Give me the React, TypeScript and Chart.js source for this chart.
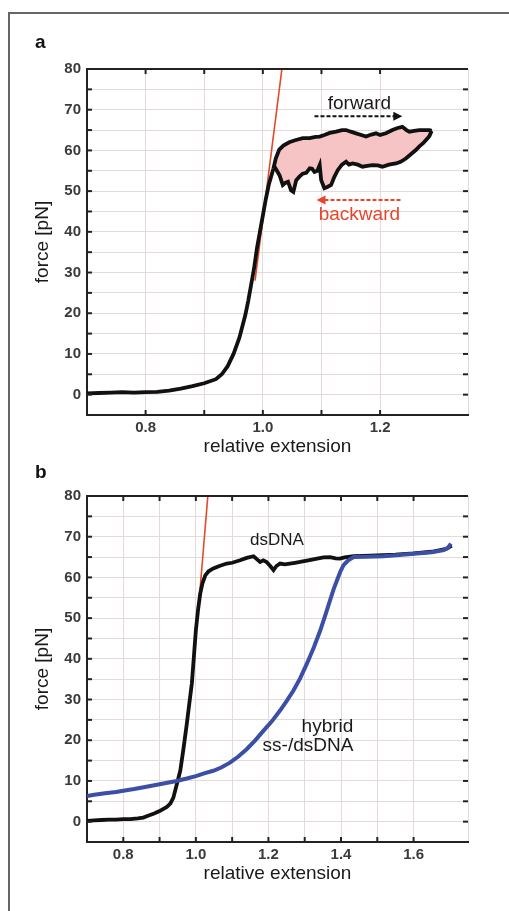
import React, { useEffect, useRef } from 'react';
import { Chart, registerables } from 'chart.js';
Chart.register(...registerables);

const FONT = '"Liberation Sans", Arial, Helvetica, sans-serif';

// ---------- Panel a data ----------
const aRiseX = [0.7, 0.72, 0.74, 0.76, 0.78, 0.8, 0.82, 0.84, 0.86, 0.88, 0.9, 0.92, 0.93, 0.94, 0.95, 0.96, 0.97, 0.975, 0.98, 0.985, 0.99, 0.995, 1.0, 1.005, 1.01, 1.015, 1.018];
const aRiseY = [0.3, 0.4, 0.5, 0.6, 0.5, 0.6, 0.7, 1.0, 1.5, 2.1, 2.8, 3.8, 5.0, 7.0, 10.0, 14.0, 19.5, 23.0, 27.0, 31.0, 36.0, 40.0, 44.0, 48.0, 51.5, 54.0, 55.5];
const aFwdX = [1.018, 1.022, 1.028, 1.035, 1.045, 1.055, 1.068, 1.08, 1.09, 1.097, 1.105, 1.114, 1.125, 1.135, 1.142, 1.15, 1.159, 1.168, 1.176, 1.185, 1.193, 1.2, 1.21, 1.221, 1.23, 1.238, 1.245, 1.25, 1.258, 1.267, 1.275, 1.284, 1.288];
const aFwdY = [55.5, 58.0, 60.2, 61.2, 62.0, 62.5, 63.0, 63.0, 63.3, 63.4, 63.8, 64.3, 64.6, 65.0, 65.0, 64.6, 64.2, 63.8, 63.4, 63.9, 64.2, 63.8, 64.2, 65.0, 65.5, 65.8, 65.0, 64.6, 64.8, 65.0, 65.0, 65.0, 64.8];
const aBwdX = [1.288, 1.284, 1.278, 1.273, 1.267, 1.261, 1.252, 1.244, 1.235, 1.227, 1.215, 1.204, 1.196, 1.187, 1.178, 1.17, 1.162, 1.153, 1.147, 1.142, 1.135, 1.128, 1.122, 1.1165, 1.11, 1.105, 1.0995, 1.097, 1.093, 1.088, 1.084, 1.08, 1.074, 1.068, 1.062, 1.057, 1.052, 1.048, 1.045, 1.043, 1.038, 1.034, 1.031, 1.0285, 1.024, 1.02, 1.018];
const aBwdY = [64.8, 63.5, 62.5, 61.7, 61.0, 60.1, 59.0, 58.0, 57.2, 56.8, 56.5, 56.0, 56.3, 56.4, 56.2, 56.0, 56.5, 56.8, 56.5, 57.2, 56.5, 55.2, 53.5, 51.5, 51.0, 50.7, 52.7, 56.4, 55.0, 54.7, 55.5, 55.6, 54.5, 54.3, 53.5, 52.7, 49.8, 50.2, 51.5, 52.3, 52.0, 51.5, 52.8, 53.9, 55.0, 56.0, 55.5];
const aFitX = [0.9867, 1.0325];
const aFitY = [28, 80];

// ---------- Panel b data ----------
const bDsX = [0.7, 0.72, 0.74, 0.76, 0.78, 0.8, 0.82, 0.84, 0.855, 0.87, 0.885, 0.9, 0.92, 0.93, 0.938, 0.947, 0.957, 0.966, 0.975, 0.982, 0.989, 0.995, 1.0, 1.006, 1.012, 1.018, 1.026, 1.035, 1.048, 1.065, 1.085, 1.1, 1.122, 1.14, 1.159, 1.168, 1.177, 1.186, 1.195, 1.205, 1.214, 1.222, 1.232, 1.245, 1.259, 1.273, 1.287, 1.31, 1.334, 1.352, 1.37, 1.385, 1.397, 1.41, 1.435, 1.46, 1.5, 1.55, 1.6, 1.65, 1.69, 1.705];
const bDsY = [0.2, 0.3, 0.4, 0.5, 0.5, 0.6, 0.6, 0.8, 1.0, 1.5, 2.0, 2.6, 3.6, 4.5, 5.9, 9.0, 12.5, 18.0, 24.0, 29.0, 34.0, 41.0, 47.0, 52.0, 56.0, 58.5, 60.5, 61.5, 62.2, 62.8, 63.4, 63.6, 64.2, 64.8, 65.2, 64.5, 63.8, 64.2, 63.8, 62.8, 61.8, 62.8, 63.4, 63.2, 63.4, 63.6, 63.8, 64.2, 64.6, 64.9, 65.0, 64.7, 64.6, 64.9, 65.2, 65.3, 65.4, 65.6, 65.9, 66.3, 67.0, 67.8];
const bHyX = [0.7, 0.72, 0.75, 0.78, 0.8, 0.83, 0.86, 0.9, 0.947, 0.975, 1.0, 1.025, 1.048, 1.07, 1.094, 1.117, 1.14, 1.163, 1.186, 1.21, 1.232, 1.25, 1.269, 1.288, 1.306, 1.325, 1.343, 1.357, 1.37, 1.38, 1.389, 1.398, 1.407, 1.42, 1.435, 1.47, 1.517, 1.56, 1.609, 1.65, 1.683, 1.695, 1.703];
const bHyY = [6.3, 6.6, 7.0, 7.3, 7.6, 8.0, 8.5, 9.2, 10.0, 10.6, 11.2, 11.9, 12.5, 13.3, 14.5, 16.0, 17.8, 19.9, 22.3, 24.7, 27.3, 29.6, 32.2, 35.3, 38.8, 42.8, 47.0, 50.8, 54.4, 57.2, 59.3, 61.4, 63.0, 64.2, 65.0, 65.1, 65.2, 65.5, 65.9, 66.2, 66.7, 67.3, 68.3];
const bFitX = [1.005, 1.033];
const bFitY = [50, 80];

// ---------- Tick labels ----------
const yTickLabels = ['0', '10', '20', '30', '40', '50', '60', '70', '80'];
const aXTickLabels = ['0.8', '1.0', '1.2'];
const bXTickLabels = ['0.8', '1.0', '1.2', '1.4', '1.6'];

const BLACK = '#111111';
const BLUE = '#3b4fa6';
const RED = '#e24a2a';
const PINK = '#f6c4c4';
const GRID = '#e4dad8';
const AXIS = '#222222';

const zip = (xs: number[], ys: number[]) => xs.map((x, i) => ({ x, y: ys[i] }));

const near = (v: number, step: number) => Math.abs(v / step - Math.round(v / step)) < 1e-6;

const decorPlugin = {
  id: 'decor',
  afterDatasetsDraw(chart: any, _a: any, opts: any) {
    const { ctx, scales } = chart;
    const xs = scales.x, ys = scales.y;
    ctx.save();
    (opts.arrows || []).forEach((a: any) => {
      const x1 = xs.getPixelForValue(a.x1);
      const x2 = xs.getPixelForValue(a.x2);
      const y = ys.getPixelForValue(a.y);
      ctx.strokeStyle = a.color;
      ctx.fillStyle = a.color;
      ctx.lineWidth = 2;
      ctx.setLineDash([4, 2]);
      ctx.beginPath();
      if (a.head === 'right') { ctx.moveTo(x1, y); ctx.lineTo(x2 - 8, y); }
      else { ctx.moveTo(x1 + 8, y); ctx.lineTo(x2, y); }
      ctx.stroke();
      ctx.setLineDash([]);
      ctx.beginPath();
      if (a.head === 'right') { ctx.moveTo(x2, y); ctx.lineTo(x2 - 9, y - 4.5); ctx.lineTo(x2 - 9, y + 4.5); }
      else { ctx.moveTo(x1, y); ctx.lineTo(x1 + 9, y - 4.5); ctx.lineTo(x1 + 9, y + 4.5); }
      ctx.closePath();
      ctx.fill();
    });
    (opts.notes || []).forEach((n: any) => {
      ctx.font = `${n.size || 19}px ${FONT}`;
      ctx.fillStyle = n.color || '#222';
      ctx.textAlign = n.align || 'center';
      ctx.textBaseline = 'middle';
      ctx.fillText(n.text, xs.getPixelForValue(n.x), ys.getPixelForValue(n.y));
    });
    ctx.restore();
  },
  afterDraw(chart: any, _a: any, opts: any) {
    const { ctx, chartArea: ca, scales } = chart;
    const xs = scales.x, ys = scales.y;
    ctx.save();
    ctx.strokeStyle = AXIS;
    ctx.lineWidth = 2;
    ctx.beginPath();
    ctx.moveTo(ca.left - 1, ca.top);
    ctx.lineTo(ca.right, ca.top);
    ctx.stroke();
    const seg = (x1: number, y1: number, x2: number, y2: number) => {
      ctx.beginPath(); ctx.moveTo(x1, y1); ctx.lineTo(x2, y2); ctx.stroke();
    };
    xs.ticks.forEach((t: any) => {
      const v = t.value;
      if (v <= xs.min + 1e-9 || v >= xs.max - 1e-9 || !near(v, 0.1)) return;
      const px = xs.getPixelForValue(v);
      seg(px, ca.bottom, px, ca.bottom - 5);
      seg(px, ca.top, px, ca.top + 5);
    });
    ys.ticks.forEach((t: any) => {
      const v = t.value;
      if (v <= ys.min + 1e-9 || v >= ys.max - 1e-9) return;
      const py = ys.getPixelForValue(v);
      seg(ca.left, py, ca.left + 5, py);
      seg(ca.right, py, ca.right - 5, py);
    });
    if (opts.label) {
      ctx.font = `bold 19px ${FONT}`;
      ctx.fillStyle = '#111';
      ctx.textAlign = 'left';
      ctx.textBaseline = 'alphabetic';
      ctx.fillText(opts.label, opts.labelX, opts.labelY);
    }
    ctx.restore();
  },
};

function makeOptions(xMax: number, xLabels: string[], decor: any) {
  return {
    responsive: false,
    animation: false as const,
    layout: { padding: { top: 69, right: 41, left: 0, bottom: 0 } },
    plugins: {
      legend: { display: false },
      tooltip: { enabled: false },
      decor,
    },
    elements: { point: { radius: 0 }, line: { tension: 0 } },
    scales: {
      x: {
        type: 'linear' as const,
        min: 0.7,
        max: xMax,
        afterFit: (s: any) => { s.height = 45; },
        grid: { color: GRID, lineWidth: 1, drawTicks: false },
        border: { display: true, color: AXIS, width: 2 },
        ticks: {
          stepSize: 0.1,
          autoSkip: false,
          maxRotation: 0,
          padding: 4,
          color: '#3a3a3a',
          font: { family: FONT, size: 15, weight: 'bold' as const },
          callback: (v: any) => {
            const n = Number(v);
            const s = n.toFixed(1);
            return near(n, 0.1) && xLabels.includes(s) ? s : '';
          },
        },
        title: {
          display: true,
          text: 'relative extension',
          color: '#1a1a1a',
          font: { family: FONT, size: 19, lineHeight: 1 },
          padding: { top: 0, bottom: 3.8 },
        },
      },
      y: {
        type: 'linear' as const,
        min: -5,
        max: 80,
        afterFit: (s: any) => { s.width = 87; },
        grid: { color: GRID, lineWidth: 1, drawTicks: false },
        border: { display: true, color: AXIS, width: 2 },
        ticks: {
          stepSize: 5,
          autoSkip: false,
          padding: 6,
          color: '#3a3a3a',
          font: { family: FONT, size: 15, weight: 'bold' as const },
          callback: (v: any) => {
            const n = Number(v);
            const s = String(Math.round(n));
            return near(n, 10) && yTickLabels.includes(s) ? s : '';
          },
        },
        title: {
          display: true,
          text: 'force [pN]',
          color: '#1a1a1a',
          font: { family: FONT, size: 19, lineHeight: 1 },
          padding: { top: 33.5, bottom: 0 },
        },
      },
    },
  };
}

function buildA() {
  const loop = [...zip(aFwdX, aFwdY), ...zip(aBwdX, aBwdY)];
  return {
    type: 'scatter' as const,
    data: {
      datasets: [
        { data: loop, showLine: true, fill: 'shape', backgroundColor: PINK, borderWidth: 0, borderColor: 'rgba(0,0,0,0)', order: 4 },
        { data: zip(aFitX, aFitY), showLine: true, borderColor: RED, borderWidth: 1.6, order: 3 },
        { data: zip(aBwdX, aBwdY), showLine: true, borderColor: BLACK, borderWidth: 3.8, order: 1 },
        { data: zip(aFwdX, aFwdY), showLine: true, borderColor: BLACK, borderWidth: 3.8, order: 1 },
        { data: zip(aRiseX, aRiseY), showLine: true, borderColor: BLACK, borderWidth: 3.8, order: 1 },
      ],
    },
    options: makeOptions(1.35, aXTickLabels, {
      label: 'a', labelX: 35, labelY: 48,
      notes: [
        { text: 'forward', x: 1.1647, y: 71.4, color: '#1a1a1a' },
        { text: 'backward', x: 1.1647, y: 44.1, color: '#e8452c' },
      ],
      arrows: [
        { x1: 1.0881, x2: 1.2379, y: 68.4, color: '#111', head: 'right' },
        { x1: 1.0915, x2: 1.2379, y: 47.8, color: '#e8452c', head: 'left' },
      ],
    }),
    plugins: [decorPlugin],
  };
}

function buildB() {
  return {
    type: 'scatter' as const,
    data: {
      datasets: [
        { data: zip(bFitX, bFitY), showLine: true, borderColor: RED, borderWidth: 1.6, order: 3 },
        { data: zip(bDsX, bDsY), showLine: true, borderColor: BLACK, borderWidth: 3.8, order: 1 },
        { data: zip(bHyX, bHyY), showLine: true, borderColor: BLUE, borderWidth: 4, order: 0 },
      ],
    },
    options: makeOptions(1.75, bXTickLabels, {
      label: 'b', labelX: 35, labelY: 51,
      notes: [
        { text: 'dsDNA', x: 1.2233, y: 69.1, color: '#1a1a1a', size: 17 },
        { text: 'hybrid', x: 1.434, y: 23.3, color: '#1a1a1a', align: 'right' },
        { text: 'ss-/dsDNA', x: 1.434, y: 18.6, color: '#1a1a1a', align: 'right' },
      ],
      arrows: [],
    }),
    plugins: [decorPlugin],
  };
}

function Panel({ top, build }: { top: number; build: () => any }) {
  const ref = useRef<HTMLCanvasElement | null>(null);
  useEffect(() => {
    if (!ref.current) return;
    const chart = new Chart(ref.current, build());
    return () => chart.destroy();
  }, [build]);
  return (
    <canvas
      ref={ref}
      width={509}
      height={460}
      style={{ position: 'absolute', left: 0, top, width: 509, height: 460 }}
    />
  );
}

export default function App() {
  return (
    <div style={{ position: 'absolute', left: 0, top: 0, width: 509, height: 911, background: '#fff', overflow: 'hidden' }}>
      <div
        style={{
          position: 'absolute', left: 8, top: 12, width: 501, height: 899,
          borderTop: '2px solid #666', borderLeft: '2px solid #666', boxSizing: 'border-box',
        }}
      />
      <Panel top={0} build={buildA} />
      <Panel top={427} build={buildB} />
    </div>
  );
}
